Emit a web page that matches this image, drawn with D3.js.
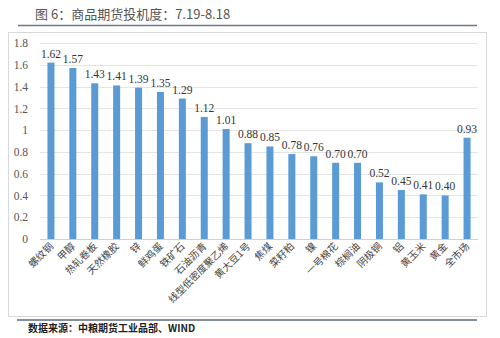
<!DOCTYPE html>
<html><head><meta charset="utf-8">
<script src="https://cdn.jsdelivr.net/npm/d3@7"></script>
<style>body{margin:0;background:#fff;} svg{display:block;}</style>
</head><body>
<svg id="c" width="500" height="338"></svg>
<script>
const categories = ["螺纹钢","甲醇","热轧卷板","天然橡胶","锌","鲜鸡蛋","铁矿石","石油沥青","线型低密度聚乙烯","黄大豆1号","焦煤","菜籽粕","镍","一号棉花","棕榈油","阴极铜","铝","黄玉米","黄金","全市场"];
const values = [1.62,1.57,1.43,1.41,1.39,1.35,1.29,1.12,1.01,0.88,0.85,0.78,0.76,0.70,0.70,0.52,0.45,0.41,0.40,0.93];
const yTicks = [0,0.2,0.4,0.6,0.8,1,1.2,1.4,1.6,1.8];
const titleText = "图 6：商品期货投机度：7.19-8.18";
const sourceText = "数据来源：中粮期货工业品部、WIND";

const svg = d3.select("#c");
const font = "'Noto Sans CJK SC', 'Noto Sans', sans-serif";

svg.append("text").attr("x",35).attr("y",19).attr("font-family",font).attr("font-size",13).attr("fill","#555").text(titleText);
svg.append("line").attr("x1",18).attr("x2",477).attr("y1",25.5).attr("y2",25.5).attr("stroke","#6a7a8a").attr("stroke-width",1.5);

svg.append("rect").attr("x",8.5).attr("y",32.5).attr("width",478).attr("height",284).attr("fill","none").attr("stroke","#d9d9d9");

const x = d3.scaleBand().domain(categories).range([40,478]).paddingInner(0.68).paddingOuter(0.34);
const y = d3.scaleLinear().domain([0,1.8]).range([239,43]);

const g = svg.append("g");
g.selectAll("line.grid").data(yTicks).join("line").attr("class","grid")
 .attr("x1",40).attr("x2",478).attr("y1",d=>Math.round(y(d))+0.5).attr("y2",d=>Math.round(y(d))+0.5)
 .attr("stroke",d=>d===0?"#d0d0d0":"#e4e4e4");

const yAxis = d3.axisLeft(y).tickValues(yTicks).tickSize(0).tickPadding(0).tickFormat(d=>String(d));
const ya = svg.append("g").attr("transform","translate(28,0)").call(yAxis);
ya.select(".domain").remove();
ya.selectAll("text").attr("font-family","'Liberation Serif', serif").attr("font-size",11.5).attr("fill","#555");

g.selectAll("rect.bar").data(values).join("rect").attr("class","bar")
 .attr("x",(d,i)=>x(categories[i])).attr("width",x.bandwidth())
 .attr("y",d=>y(d)).attr("height",d=>y(0)-y(d)).attr("fill","#5b9bd5");

g.selectAll("text.val").data(values).join("text").attr("class","val")
 .attr("x",(d,i)=>x(categories[i])+x.bandwidth()/2).attr("y",d=>y(d)-5)
 .attr("text-anchor","middle").attr("font-family","'Liberation Serif', serif").attr("font-size",11.5).attr("fill","#333")
 .text(d=>d.toFixed(2).replace(/^1\.62$/,"1.62"));

const xAxis = d3.axisBottom(x).tickSize(0).tickPadding(0);
const xa = svg.append("g").attr("transform","translate(0,239)").call(xAxis);
xa.select(".domain").remove();
xa.selectAll("text").attr("font-family",font).attr("font-size",10).attr("fill","#444")
 .attr("text-anchor","end").attr("dy",0).attr("y",0)
 .attr("transform","translate(3,8) rotate(-45)");

svg.append("line").attr("x1",17).attr("x2",477).attr("y1",320).attr("y2",320).attr("stroke","#5a6b7b").attr("stroke-width",1.5);
svg.append("text").attr("x",28).attr("y",332).attr("font-family",font).attr("font-size",10).attr("font-weight","bold").attr("fill","#222").text(sourceText);
</script>
</body></html>
